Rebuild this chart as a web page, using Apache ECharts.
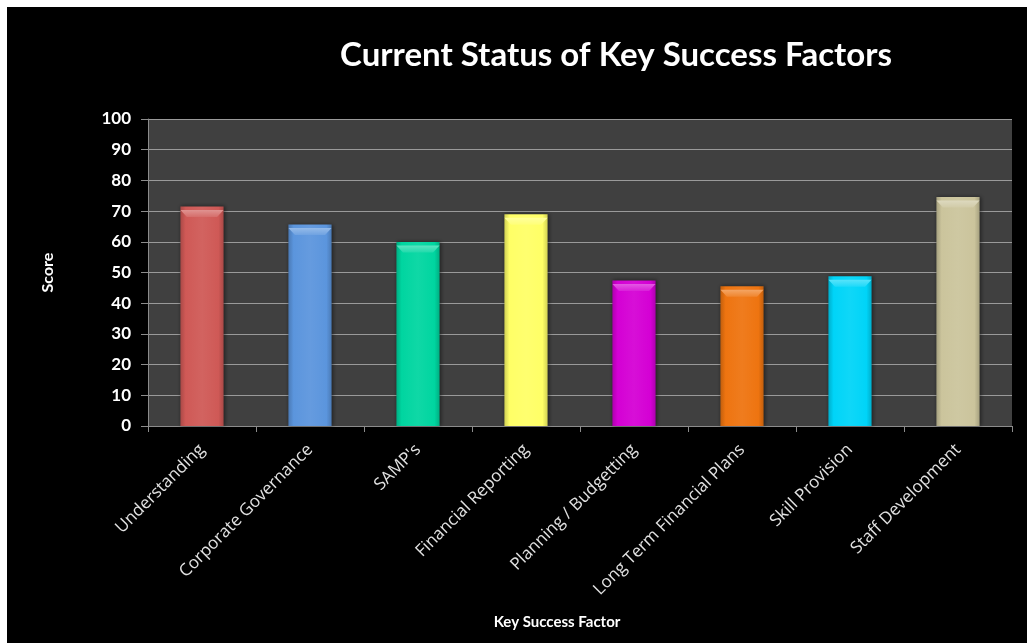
<!DOCTYPE html>
<html>
<head>
<meta charset="utf-8">
<script src="https://cdn.jsdelivr.net/npm/echarts@6/dist/echarts.min.js"></script>
<style>
  html, body { margin: 0; padding: 0; background: #ffffff; }
  #chart { position: absolute; left: 7px; top: 7px; width: 1020px; height: 636px; }
</style>
</head>
<body>
<div id="chart"></div>
<script>
// Key success factors and their current scores
const categories = [
  'Understanding',
  'Corporate Governance',
  "SAMP's",
  'Financial Reporting',
  'Planning / Budgetting',
  'Long Term Financial Plans',
  'Skill Provision',
  'Staff Development'
];
const scores = [71.5, 65.6, 59.9, 69.0, 47.4, 45.5, 48.8, 74.6];
const barColors = ['#cf5956', '#5b95dd', '#00d5a0', '#ffff66', '#d400d4', '#ee7410', '#00d4f8', '#cbc49c'];
const yTicks = [0, 10, 20, 30, 40, 50, 60, 70, 80, 90, 100];

function shade(hex, f) {
  const n = parseInt(hex.slice(1), 16);
  let r = (n >> 16) & 255, g = (n >> 8) & 255, b = n & 255;
  const adj = c => Math.max(0, Math.min(255, Math.round(f < 0 ? c * (1 + f) : c + (255 - c) * f)));
  return 'rgb(' + adj(r) + ',' + adj(g) + ',' + adj(b) + ')';
}

// soft cylinder-like shading across each bar
function barFill(hex) {
  return {
    type: 'linear', x: 0, y: 0, x2: 1, y2: 0,
    colorStops: [
      { offset: 0, color: shade(hex, -0.18) },
      { offset: 0.12, color: hex },
      { offset: 0.5, color: shade(hex, 0.06) },
      { offset: 0.88, color: hex },
      { offset: 1, color: shade(hex, -0.18) }
    ]
  };
}

// bevelled highlight along the top edge of each bar
function bevelFill(hex) {
  return {
    type: 'linear', x: 0, y: 0, x2: 0, y2: 1,
    colorStops: [
      { offset: 0, color: shade(hex, 0.35) },
      { offset: 1, color: shade(hex, 0.12) }
    ]
  };
}

const chart = echarts.init(document.getElementById('chart'), null, { renderer: 'canvas' });

chart.setOption({
  backgroundColor: '#000000',
  animation: false,
  title: {
    text: 'Current Status of Key Success Factors',
    left: 604,
    top: 27,
    textAlign: 'center',
    textStyle: { color: '#ffffff', fontFamily: 'Lato', fontWeight: 'bold', fontSize: 33 }
  },
  grid: {
    left: 141, top: 112, width: 864, height: 307,
    show: true, backgroundColor: '#404040', borderWidth: 0
  },
  xAxis: {
    type: 'category',
    data: categories,
    name: 'Key Success Factor',
    nameLocation: 'middle',
    nameGap: 189,
    nameTextStyle: { color: '#ffffff', fontFamily: 'Lato', fontWeight: 'bold', fontSize: 15, padding: [0, 46, 0, 0] },
    axisLine: { show: true, lineStyle: { color: '#8c8c8c', width: 1 } },
    axisTick: { show: true, alignWithLabel: false, length: 6, lineStyle: { color: '#8c8c8c' } },
    axisLabel: {
      color: '#e2e2e2', fontFamily: 'Open Sans', fontSize: 17, rotate: 45, margin: 21, interval: 0
    },
    splitLine: { show: false }
  },
  yAxis: {
    type: 'value',
    min: yTicks[0],
    max: yTicks[yTicks.length - 1],
    interval: 10,
    name: 'Score',
    nameLocation: 'middle',
    nameGap: 92,
    nameRotate: 90,
    nameTextStyle: { color: '#ffffff', fontFamily: 'Lato', fontWeight: 'bold', fontSize: 16 },
    axisLine: { show: true, lineStyle: { color: '#8c8c8c', width: 1 } },
    axisTick: { show: true, length: 7, lineStyle: { color: '#8c8c8c' } },
    axisLabel: { color: '#ffffff', fontFamily: 'Lato', fontWeight: 'bold', fontSize: 17, margin: 17 },
    splitLine: { show: true, lineStyle: { color: '#9a9a9a', width: 1 } }
  },
  series: [{
    type: 'bar',
    barWidth: '40%',
    data: scores.map((v, i) => ({
      value: v,
      itemStyle: {
        color: barFill(barColors[i]),
        shadowColor: 'rgba(0,0,0,0.5)',
        shadowBlur: 4,
        shadowOffsetX: 1
      }
    }))
  }, {
    type: 'pictorialBar',
    silent: true,
    symbol: 'path://M0,0 L20,0 L17,3 L3,3 Z',
    symbolSize: [43, 7],
    symbolPosition: 'end',
    symbolOffset: [0, '50%'],
    z: 3,
    data: scores.map((v, i) => ({
      value: v,
      itemStyle: { color: bevelFill(barColors[i]) }
    }))
  }]
});
</script>
</body>
</html>
